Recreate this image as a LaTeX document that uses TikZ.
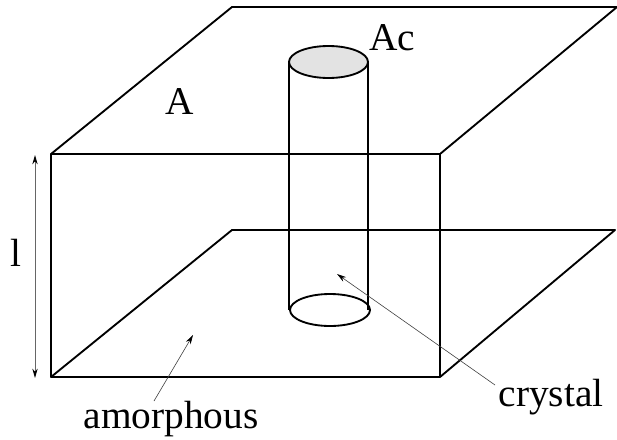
\documentclass[tikz,border=0pt]{standalone}
\usepackage{fontspec}
\setmainfont{Liberation Serif}
\usetikzlibrary{arrows.meta}
\tikzset{
  edge/.style={draw=black,line width=1.4pt,line cap=round,line join=round},
  thinedge/.style={draw=black,line width=1pt},
  pointer/.style={draw=black!75,line width=0.45pt,-{Stealth[length=7pt,width=4pt,black]}},
  dim/.style={draw=black!60,line width=0.75pt,{Stealth[length=7pt,width=4pt,black]}-{Stealth[length=7pt,width=4pt,black]}},
  label/.style={font=\fontsize{29.5pt}{30pt}\selectfont,inner sep=0pt,text=black}
}
\begin{document}
\begin{tikzpicture}[x=0.75pt,y=-0.75pt]
\useasboundingbox (0,0) rectangle (617,439);
\coordinate (ftl) at (51,154);
\coordinate (ftr) at (440,154);
\coordinate (fbl) at (51,377);
\coordinate (fbr) at (440,377);
\coordinate (btl) at (232,7);
\coordinate (btr) at (617,7);
\coordinate (bbl) at (232,230);
\coordinate (bbr) at (615,230);
\draw[edge] (ftl) -- (btl) -- (btr) -- (ftr) -- cycle;
\draw[edge] (ftl) -- (fbl) -- (fbr) -- (ftr);
\draw[edge] (fbl) -- (bbl) -- (bbr) -- (fbr);
\coordinate (ctl) at (289,62);
\coordinate (ctr) at (368,62);
\coordinate (cbl) at (289,310);
\coordinate (cbr) at (368,310);
\draw[thinedge] (ctl) -- (cbl);
\draw[thinedge] (ctr) -- (cbr);
\draw[edge,fill=black!11] (328.5,62) ellipse [x radius=39.5,y radius=16];
\draw[edge] (330,310) ellipse [x radius=40,y radius=16];
\coordinate (lt) at (35,155);
\coordinate (lb) at (35,378);
\draw[dim] (lt) -- (lb);
\coordinate (am1) at (154,401);
\coordinate (am2) at (193,335);
\draw[pointer] (am1) -- (am2);
\coordinate (cr1) at (495,385);
\coordinate (cr2) at (337,274);
\draw[pointer] (cr1) -- (cr2);
\node[label] (nA) at (180,102) {A};
\node[label] (nAc) at (392,38) {Ac};
\node[label] (nl) at (16,253) {l};
\node[label,anchor=base] (nam) at (171,428) {amorphous};
\node[label,anchor=base] (ncr) at (551,406) {crystal};
\end{tikzpicture}
\end{document}
